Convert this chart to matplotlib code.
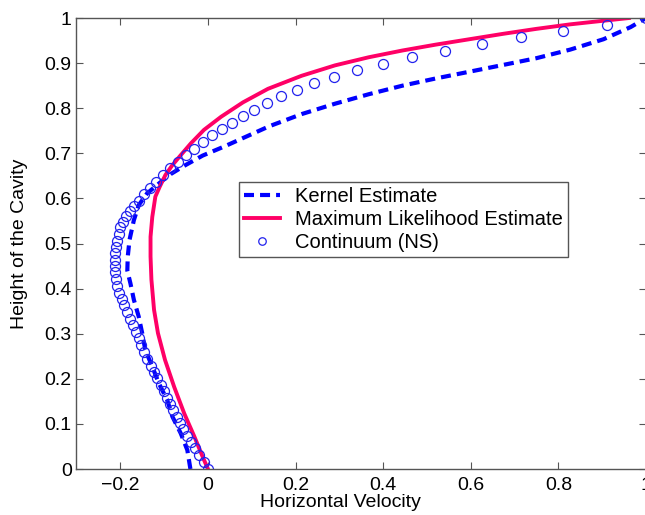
import matplotlib.pyplot as plt

plt.rcParams['font.family'] = ['Liberation Sans', 'DejaVu Sans']

# Kernel estimate (blue dashed)
kernel_u = [-0.040, -0.047, -0.062, -0.081, -0.093, -0.112, -0.127, -0.143, -0.150,
            -0.158, -0.169, -0.177, -0.184, -0.183, -0.179, -0.169, -0.158, -0.139,
            -0.112, -0.085, -0.051, -0.012, 0.037, 0.085, 0.140, 0.214, 0.290, 0.367,
            0.444, 0.520, 0.597, 0.674, 0.750, 0.827, 0.903, 0.965, 1.000]
kernel_y = [0.000, 0.042, 0.079, 0.116, 0.153, 0.190, 0.227, 0.264, 0.301,
            0.338, 0.375, 0.412, 0.440, 0.471, 0.508, 0.552, 0.585, 0.611,
            0.633, 0.654, 0.674, 0.695, 0.715, 0.736, 0.760, 0.787, 0.810, 0.831,
            0.850, 0.866, 0.881, 0.896, 0.911, 0.930, 0.953, 0.980, 1.000]

# Maximum likelihood estimate (pink solid)
mle_u = [0.000, -0.012, -0.031, -0.054, -0.077, -0.098, -0.114, -0.123, -0.129,
         -0.131, -0.131, -0.127, -0.120, -0.110, -0.097, -0.081, -0.062, -0.039,
         -0.009, 0.030, 0.080, 0.137, 0.214, 0.290, 0.367, 0.444, 0.520, 0.597,
         0.674, 0.750, 0.827, 0.903, 0.961]
mle_y = [0.000, 0.027, 0.072, 0.123, 0.182, 0.242, 0.301, 0.353, 0.420,
         0.471, 0.515, 0.559, 0.604, 0.626, 0.652, 0.674, 0.696, 0.722,
         0.752, 0.781, 0.813, 0.843, 0.872, 0.895, 0.913, 0.928, 0.941, 0.953,
         0.965, 0.976, 0.986, 0.994, 1.000]

# Continuum (NS) circles
ns_u = [0.000, -0.010, -0.020, -0.030, -0.039, -0.048, -0.056, -0.064, -0.071, -0.079,
        -0.087, -0.093, -0.100, -0.108, -0.116, -0.123, -0.131, -0.138, -0.145, -0.152,
        -0.158, -0.165, -0.172, -0.179, -0.185, -0.191, -0.196, -0.202, -0.207, -0.209,
        -0.211, -0.212, -0.212, -0.211, -0.210, -0.207, -0.204, -0.200, -0.194, -0.186,
        -0.179, -0.169, -0.158, -0.146, -0.133, -0.118, -0.102, -0.087, -0.069, -0.051,
        -0.031, -0.011, 0.010, 0.031, 0.055, 0.080, 0.106, 0.135, 0.166, 0.203,
        0.243, 0.288, 0.340, 0.399, 0.465, 0.541, 0.625, 0.715, 0.811, 0.911, 1.000]
ns_y = [0.000, 0.016, 0.031, 0.046, 0.059, 0.074, 0.089, 0.103, 0.116, 0.130,
        0.144, 0.158, 0.173, 0.187, 0.201, 0.215, 0.229, 0.243, 0.260, 0.275,
        0.290, 0.304, 0.319, 0.333, 0.348, 0.363, 0.378, 0.391, 0.406, 0.421,
        0.437, 0.451, 0.463, 0.478, 0.492, 0.506, 0.521, 0.536, 0.548, 0.561,
        0.573, 0.584, 0.595, 0.609, 0.623, 0.637, 0.653, 0.667, 0.681, 0.696,
        0.710, 0.724, 0.740, 0.754, 0.768, 0.783, 0.797, 0.812, 0.826, 0.841,
        0.855, 0.870, 0.885, 0.899, 0.913, 0.927, 0.942, 0.957, 0.971, 0.985, 1.000]

x_ticks = [-0.2, 0, 0.2, 0.4, 0.6, 0.8, 1]
x_labels = ['\u22120.2', '0', '0.2', '0.4', '0.6', '0.8', '1']
y_ticks = [0, 0.1, 0.2, 0.3, 0.4, 0.5, 0.6, 0.7, 0.8, 0.9, 1]
y_labels = ['0', '0.1', '0.2', '0.3', '0.4', '0.5', '0.6', '0.7', '0.8', '0.9', '1']

fig = plt.figure(figsize=(6.45, 5.15), dpi=100)
ax = fig.add_axes([0.1186, 0.0893, 0.883, 0.8757])

ax.plot(kernel_u, kernel_y, color='#0000ff', lw=3, dashes=(2.4, 1.45),
        label='Kernel Estimate')
ax.plot(mle_u, mle_y, color='#ff0066', lw=2.8, label='Maximum Likelihood Estimate')
ax.plot(ns_u, ns_y, ls='none', marker='o', ms=7.2, mfc='none', mec='#2222ee',
        mew=0.9, label='Continuum (NS)')

ax.set_xlim(-0.3, 1)
ax.set_ylim(0, 1)
ax.set_xticks(x_ticks)
ax.set_xticklabels(x_labels)
ax.set_yticks(y_ticks)
ax.set_yticklabels(y_labels)
ax.tick_params(axis='both', direction='in', top=True, right=True, length=5,
               color='#555555', labelsize=14)
ax.tick_params(axis='x', pad=6)
ax.tick_params(axis='y', pad=3.5)
for s in ax.spines.values():
    s.set_color('#555555')
    s.set_linewidth(1)

ax.set_xlabel('Horizontal Velocity', fontsize=14)
ax.xaxis.set_label_coords(0.464, -0.056)
ax.set_ylabel('Height of the Cavity', fontsize=14)
ax.yaxis.set_label_coords(-0.086, 0.5)

leg = ax.legend(loc='upper left', bbox_to_anchor=(0.285, 0.636), borderaxespad=0,
                fontsize=14.5, fancybox=False, framealpha=1, edgecolor='#555555',
                handlelength=1.8, handletextpad=0.75, labelspacing=0.2,
                borderpad=0.25, numpoints=1, markerscale=0.75)
leg.get_frame().set_linewidth(1)

fig.savefig('out.png', dpi=100)
